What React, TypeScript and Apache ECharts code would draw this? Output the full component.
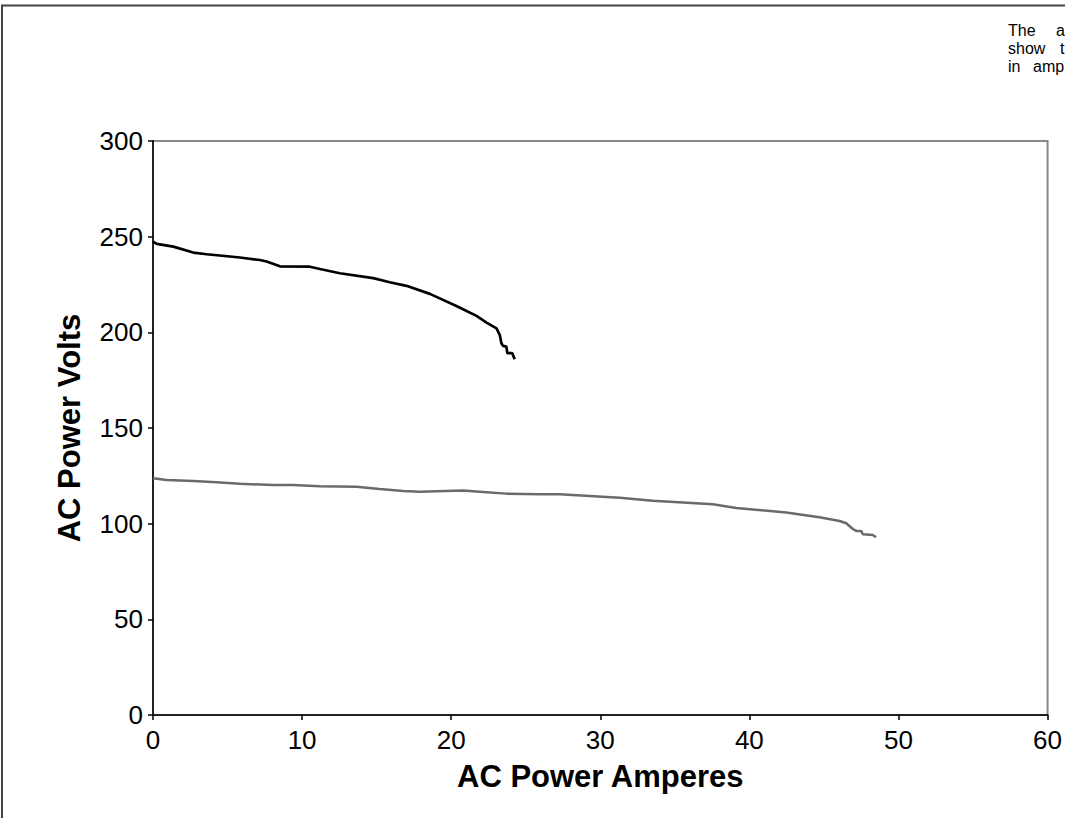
import React, { useEffect, useRef } from "react";
import * as echarts from "echarts";

const xTicks = [0, 10, 20, 30, 40, 50, 60];
const yTicks = [0, 50, 100, 150, 200, 250, 300];

const blackAmps = [0, 0.25, 1.36, 2.7, 3.6, 5.83, 7.17, 7.62, 8.51, 10.52, 11.2, 12.53, 14.77, 15.88, 17.0, 18.57, 20.35, 21.7, 22.37, 23.04, 23.26, 23.37, 23.48, 23.7, 23.77, 24.1, 24.26];
const blackVolts = [247.4, 246.2, 244.8, 241.7, 240.8, 239.1, 237.8, 237.0, 234.5, 234.3, 233.1, 230.9, 228.3, 226.2, 224.3, 220.1, 213.8, 208.6, 205.1, 202.1, 198.6, 194.3, 192.9, 192.5, 189.1, 189.1, 185.9];

const grayAmps = [0, 0.91, 2.7, 4.27, 5.83, 8.06, 9.4, 11.2, 13.65, 15.2, 16.78, 17.9, 20.8, 21.9, 23.7, 25.94, 27.28, 31.3, 33.53, 37.55, 39.12, 42.47, 44.7, 46.05, 46.5, 46.94, 47.17, 47.5, 47.61, 48.28, 48.5];
const grayVolts = [123.7, 122.8, 122.3, 121.6, 120.8, 120.2, 120.2, 119.5, 119.3, 118.1, 117.1, 116.7, 117.3, 116.7, 115.7, 115.4, 115.4, 113.6, 112.0, 110.1, 108.2, 105.8, 103.3, 101.4, 100.2, 97.2, 96.2, 96.2, 94.5, 94.1, 92.9];

const noteLines = [
  ["The", "a"],
  ["show", "t"],
  ["in", "amp"],
];

const FONT = "'Liberation Sans', Arial, Helvetica, sans-serif";

export default function App() {
  const ref = useRef<HTMLDivElement>(null);
  useEffect(() => {
    if (!ref.current) return;
    const chart = echarts.init(ref.current, undefined, { renderer: "svg" });
    const pairs = (xs: number[], ys: number[]) => xs.map((x, i) => [x, ys[i]]);
    const noteX = [[1008, 1056], [1008, 1060], [1008, 1033]];
    const noteY = [30, 48, 66];
    const noteGraphics: any[] = [];
    noteLines.forEach((parts, li) => {
      parts.forEach((t, pi) => {
        noteGraphics.push({
          type: "text",
          x: noteX[li][pi],
          y: noteY[li],
          style: { text: t, fontSize: 16, fontFamily: FONT, fill: "#000", verticalAlign: "middle", align: "left" },
        });
      });
    });
    chart.setOption({
      animation: false,
      backgroundColor: "#fff",
      textStyle: { fontFamily: FONT },
      graphic: [
        {
          type: "rect",
          shape: { x: 2, y: 5.5, width: 1200, height: 1000 },
          style: { fill: "none", stroke: "#444", lineWidth: 2 },
          silent: true,
        },
        ...noteGraphics,
      ],
      grid: {
        left: 153,
        top: 141,
        right: 17,
        bottom: 103,
        show: true,
        borderColor: "#888",
        borderWidth: 2,
        backgroundColor: "transparent",
      },
      xAxis: {
        type: "value",
        min: xTicks[0],
        max: xTicks[xTicks.length - 1],
        interval: 10,
        name: "AC Power Amperes",
        nameLocation: "middle",
        nameGap: 46,
        nameTextStyle: { fontSize: 31, fontWeight: "bold", color: "#000", fontFamily: FONT },
        axisLine: { show: true, lineStyle: { color: "#222", width: 2 } },
        axisTick: { show: true, length: 5, lineStyle: { color: "#000", width: 1.5 } },
        axisLabel: { fontSize: 26, color: "#000", margin: 12, fontFamily: FONT },
        splitLine: { show: false },
      },
      yAxis: {
        type: "value",
        min: yTicks[0],
        max: yTicks[yTicks.length - 1],
        interval: 50,
        name: "AC Power Volts",
        nameLocation: "middle",
        nameGap: 68,
        nameTextStyle: { fontSize: 31, fontWeight: "bold", color: "#000", fontFamily: FONT },
        axisLine: { show: true, lineStyle: { color: "#222", width: 2 } },
        axisTick: { show: true, length: 5, lineStyle: { color: "#000", width: 1.5 } },
        axisLabel: { fontSize: 26, color: "#000", margin: 10, fontFamily: FONT },
        splitLine: { show: false },
      },
      series: [
        {
          type: "line",
          data: pairs(blackAmps, blackVolts),
          showSymbol: false,
          lineStyle: { color: "#000", width: 2.7 },
          silent: true,
        },
        {
          type: "line",
          data: pairs(grayAmps, grayVolts),
          showSymbol: false,
          lineStyle: { color: "#6a6a6a", width: 2.5 },
          silent: true,
        },
      ],
    });
    return () => chart.dispose();
  }, []);
  return <div ref={ref} style={{ position: "absolute", left: 0, top: 0, width: 1065, height: 818 }} />;
}
